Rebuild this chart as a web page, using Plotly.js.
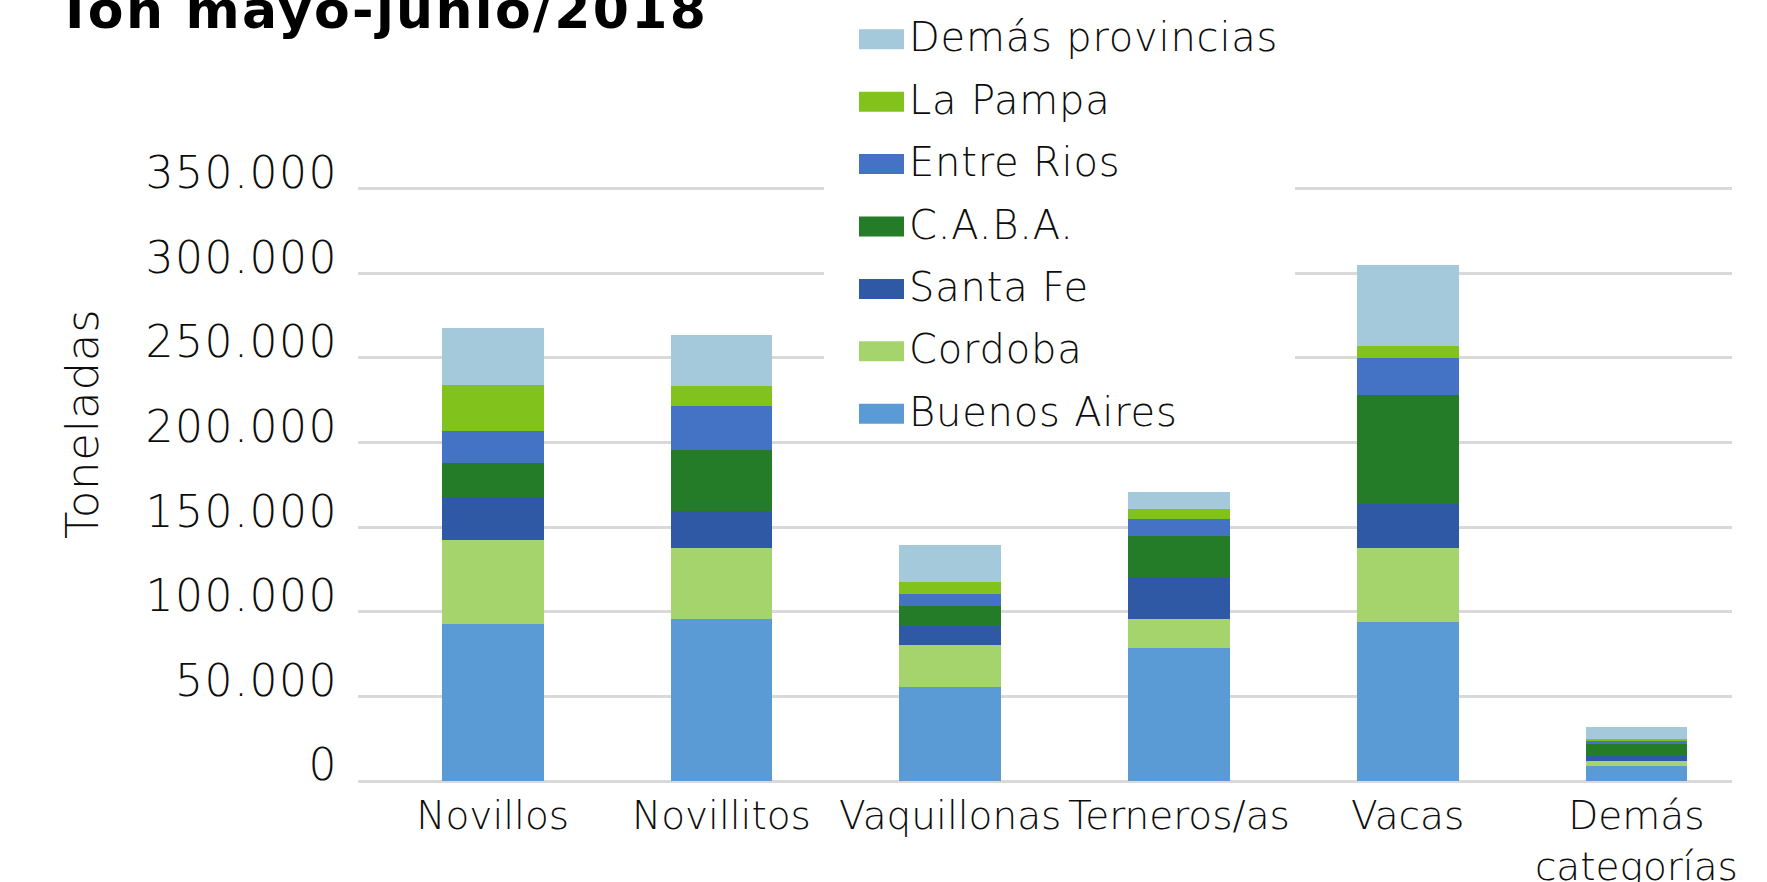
<!DOCTYPE html>
<html>
<head>
<meta charset="utf-8">
<script src="https://cdn.plot.ly/plotly-3.0.1.min.js"></script>
<style>
  html, body { margin: 0; padding: 0; background: #ffffff; }
  #chart { width: 1767px; height: 882px; }
  .gtitle { letter-spacing: 2.3px; }
  .ytick text { letter-spacing: 1.5px; }
  .annotation-text { letter-spacing: 0.8px; }
</style>
</head>
<body>
<div id="chart"></div>
<script>
// Faena por categoría y provincia, toneladas, mayo-junio 2018
const categorias = ['Novillos', 'Novillitos', 'Vaquillonas', 'Terneros/as', 'Vacas', 'Demás<br>categorías'];

const buenosAires     = [93000, 96000, 55500, 78400, 94100, 9100];
const cordoba         = [49200, 41900, 24700, 17400, 43500, 3000];
const santaFe         = [25800, 21800, 11500, 24500, 25800, 2700];
const caba            = [20100, 36000, 11700, 24300, 64900, 7000];
const entreRios       = [18900, 26000,  6900, 10200, 21800, 2100];
const laPampa         = [27200, 11700,  7300,  5900,  7000, 1000];
const demasProvincias = [33600, 30400, 21700,  9900, 48000, 7200];

const provincias = ['Buenos Aires', 'Cordoba', 'Santa Fe', 'C.A.B.A.', 'Entre Rios', 'La Pampa', 'Demás provincias'];
const series = [buenosAires, cordoba, santaFe, caba, entreRios, laPampa, demasProvincias];
const colores = ['#5B9BD5', '#A6D46C', '#2F58A5', '#247C29', '#4472C4', '#82C21C', '#A3C9DB'];

const W = 1767, H = 882;
const M = { l: 358, r: 35, t: 187, b: 101 };
const plotW = W - M.l - M.r, plotH = H - M.t - M.b;
const px = x => (x - M.l) / plotW;          // pixel -> paper x
const py = y => (H - M.b - y) / plotH;      // pixel -> paper y

const textFont = 'DejaVu Sans, Liberation Sans, sans-serif';
const textColor = '#0d0d0d';

const traces = provincias.map((nombre, i) => ({
  type: 'bar',
  name: nombre,
  x: categorias,
  y: series[i],
  marker: { color: colores[i], line: { width: 0 } },
  width: 0.445,
  showlegend: false,
  hovertemplate: '%{x}<br>' + nombre + ': %{y:,.0f} t<extra></extra>'
}));

// Legend drawn as swatches + labels, last series on top
const shapes = [{
  type: 'rect', xref: 'paper', yref: 'paper', layer: 'above',
  x0: px(824), x1: px(1295), y0: py(432), y1: py(180),
  fillcolor: '#ffffff', line: { width: 0 }
}];
const annotations = [];
const ordenLeyenda = provincias.map((_, i) => i).reverse();
ordenLeyenda.forEach((idx, row) => {
  const cy = 39.3 + 62.4 * row;
  shapes.push({
    type: 'rect', xref: 'paper', yref: 'paper', layer: 'above',
    x0: px(859), x1: px(904), y0: py(cy + 10), y1: py(cy - 10),
    fillcolor: colores[idx], line: { width: 0 }
  });
  annotations.push({
    xref: 'paper', yref: 'paper', x: px(907), y: py(cy - 2),
    xanchor: 'left', yanchor: 'middle', showarrow: false,
    text: provincias[idx],
    font: { family: textFont, size: 40, color: textColor, weight: 200 }
  });
});

// Vertical axis caption
annotations.push({
  xref: 'paper', yref: 'paper', x: px(82), y: py(424),
  xanchor: 'center', yanchor: 'middle', showarrow: false,
  textangle: -90,
  text: 'Toneladas',
  font: { family: textFont, size: 45, color: textColor, weight: 200 }
});

const layout = {
  width: W, height: H,
  margin: M,
  paper_bgcolor: '#ffffff',
  plot_bgcolor: '#ffffff',
  barmode: 'stack',
  separators: ',.',
  showlegend: false,
  title: {
    text: 'Ton mayo-junio/2018',
    xref: 'container', yref: 'container',
    x: 57 / W, xanchor: 'left',
    y: 1 - 10 / H, yanchor: 'middle',
    font: { family: 'DejaVu Sans, sans-serif', size: 52, color: '#000000', weight: 700 }
  },
  xaxis: {
    type: 'category',
    range: [-0.589, 5.418],
    showgrid: false, zeroline: false, showline: false,
    ticks: '',
    tickangle: 0,
    ticklabelstandoff: 8,
    tickfont: { family: textFont, size: 39, color: textColor, weight: 200 }
  },
  yaxis: {
    range: [0, 351000],
    dtick: 50000, tick0: 0,
    tickformat: ',.0f',
    showgrid: true, gridcolor: '#d9d9d9', gridwidth: 3,
    zeroline: true, zerolinecolor: '#d9d9d9', zerolinewidth: 3,
    showline: false, ticks: '',
    ticklabelstandoff: 19,
    ticklabelshift: -16,
    tickfont: { family: textFont, size: 44, color: textColor, weight: 200 }
  },
  shapes: shapes,
  annotations: annotations
};

Plotly.newPlot('chart', traces, layout, { displayModeBar: false, staticPlot: true });
</script>
</body>
</html>
